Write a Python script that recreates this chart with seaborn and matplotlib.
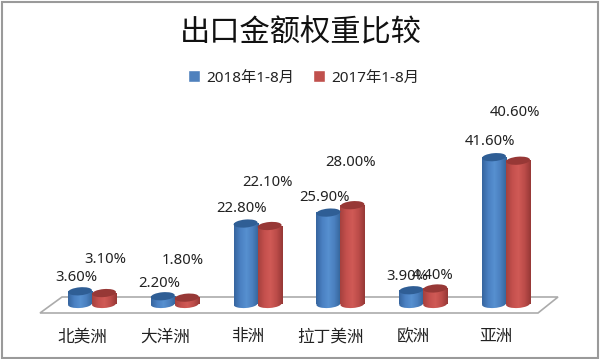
import numpy as np
import pandas as pd
import matplotlib
matplotlib.use("Agg")
import matplotlib.pyplot as plt
import seaborn as sns
from matplotlib.colors import LinearSegmentedColormap
from matplotlib.patches import Ellipse, Polygon, Rectangle
from matplotlib.transforms import ScaledTranslation

categories = ["北美洲", "大洋洲", "非洲", "拉丁美洲", "欧洲", "亚洲"]
series_names = ["2018年1-8月", "2017年1-8月"]
values_2018 = [3.6, 2.2, 22.8, 25.9, 3.9, 41.6]
values_2017 = [3.1, 1.8, 22.1, 28.0, 4.4, 40.6]

# 2017 标签离柱顶的距离（像素），原图里并不规则
label_dx_2017 = [1, -4, -2, -2, -3, -3]
label_dy_2017 = [34, 37.6, 43, 43, 12.5, 48]

W, H = 600, 359

sns.set_theme(style="white")
plt.rcParams["font.family"] = ["Noto Sans CJK SC", "DejaVu Sans"]

df = pd.DataFrame({
    "region": categories * 2,
    "value": values_2018 + values_2017,
    "year": [series_names[0]] * 6 + [series_names[1]] * 6,
})

fig = plt.figure(figsize=(W / 100, H / 100), dpi=100, facecolor="white")
# 轴底部多留 6 像素，柱底的椭圆才画得出来
ax = fig.add_axes([50.6 / W, (H - 310) / H, 496.8 / W, 210 / H])
ax.patch.set_alpha(0)

sns.barplot(data=df, x="region", y="value", hue="year", palette=["#4F81BD", "#C0504D"],
            width=0.58, saturation=1, ax=ax, legend=True)

# 圆柱的渐变和椭圆
ramps = [["#36659F", "#4A80C2", "#5790D0", "#4A7FBE", "#346499"],
         ["#A5413E", "#C4504D", "#D05A56", "#BC4C49", "#963836"]]
tops = ["#2F5E95", "#973836"]
ell_h = 8 / 100
grad = np.linspace(0, 1, 64).reshape(1, -1)

for cont, ramp, top in zip(ax.containers, ramps, tops):
    cmap = LinearSegmentedColormap.from_list("cyl", ramp)
    for bar in cont:
        x0, w, h = bar.get_x(), bar.get_width(), bar.get_height()
        bar.set_alpha(0)
        ax.imshow(grad, extent=[x0, x0 + w, 0, h], cmap=cmap, aspect="auto", zorder=3)
        w_in = w * 496.8 / 6 / 100
        base = Ellipse((0, 0), w_in, ell_h, angle=4, zorder=2.5, facecolor="none", edgecolor="none",
                       transform=fig.dpi_scale_trans + ScaledTranslation(x0 + w / 2, 0, ax.transData))
        ax.add_patch(base)
        im = ax.imshow(grad, extent=[x0, x0 + w, -1.6, 0.1], cmap=cmap, aspect="auto", zorder=3)
        im.set_clip_path(base)
        ax.add_patch(Ellipse((0, 0), w_in, ell_h, angle=5, zorder=4, facecolor=top, edgecolor="none",
                             transform=fig.dpi_scale_trans + ScaledTranslation(x0 + w / 2, h, ax.transData)))

ax.set_xlim(-0.5, 5.5)
ax.set_ylim(-1.7, 57.8)
ax.set_xlabel("")
ax.set_ylabel("")
ax.set_yticks([])
sns.despine(ax=ax, left=True, bottom=True)

# 数据标签
label_font = ["Noto Sans", "DejaVu Sans"]
for bar, v in zip(ax.containers[0], values_2018):
    ax.annotate(f"{v:.2f}%", (bar.get_x() + bar.get_width() / 2, v), xytext=(-2.9, 9.4 + 0.05 * v),
                textcoords="offset points", ha="center", va="center",
                fontsize=10.7, color="#222222", family=label_font, zorder=6, annotation_clip=False)
for bar, v, dx, dy in zip(ax.containers[1], values_2017, label_dx_2017, label_dy_2017):
    ax.annotate(f"{v:.2f}%", (bar.get_x() + bar.get_width() / 2, v), xytext=(dx * 0.72, dy * 0.72),
                textcoords="offset points", ha="center", va="center",
                fontsize=10.7, color="#222222", family=label_font, zorder=6, annotation_clip=False)

# 横轴标签往左偏一点
ax.tick_params(axis="x", length=0, pad=13.3, labelsize=12, labelcolor="#222222")
shift = ScaledTranslation(-10 / 100, 0, fig.dpi_scale_trans)
for lab in ax.get_xticklabels():
    lab.set_transform(lab.get_transform() + shift)

# 图例
handles, labels = ax.get_legend_handles_labels()
ax.legend_.remove()
fig.legend(handles, labels, loc="center", bbox_to_anchor=(303.5 / W, 1 - 78 / H), ncol=2, frameon=False,
           handlelength=0.8, handleheight=0.8, handletextpad=0.4, columnspacing=1.25,
           prop={"family": ["Noto Sans", "Noto Sans CJK SC"], "size": 11}, labelcolor="#222222")

fig.text(301 / W, 1 - 33 / H, "出口金额权重比较", ha="center", va="center", fontsize=21.8, color="#111111")

# 底板和外框
floor = [(40, 313), (62, 297), (558, 297), (538, 313)]
fig.add_artist(Polygon([(x / W, 1 - y / H) for x, y in floor], closed=True, facecolor="white",
                       edgecolor="#ABABAB", linewidth=1.2, zorder=-2, transform=fig.transFigure))
fig.add_artist(Rectangle((1.5 / W, 1.5 / H), 596 / W, 356 / H, facecolor="none", edgecolor="#9A9A9A",
                         linewidth=1.5, zorder=10, transform=fig.transFigure))

fig.savefig("out.png", dpi=100)
